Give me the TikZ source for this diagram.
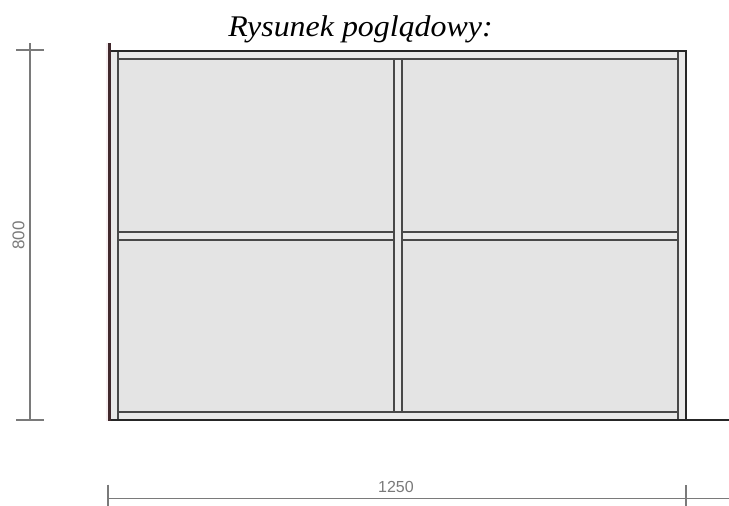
\documentclass[tikz,border=0pt]{standalone}
\usepackage{fontspec}
\setmainfont{Liberation Serif}
\setsansfont{Liberation Sans}
\definecolor{panelgray}{HTML}{E4E4E4}
\definecolor{framegray}{HTML}{E9E9E9}
\definecolor{linedark}{HTML}{484848}
\definecolor{dimgray}{HTML}{7A7A7A}
\definecolor{postred}{HTML}{40282C}
\definecolor{postglow}{HTML}{F6EEF0}
\tikzset{
  panel/.style={fill=panelgray},
  innerline/.style={draw=linedark,line width=2pt},
  frameline/.style={draw=black!85,line width=2pt},
  dimline/.style={draw=dimgray,line width=1.2pt},
  dimtext/.style={font=\sffamily\fontsize{16}{16}\selectfont,text=dimgray,inner sep=0pt}
}
\begin{document}
\begin{tikzpicture}[x=1pt,y=-1pt]
  \useasboundingbox (0,0) rectangle (729,506);

  \node[font=\itshape\fontsize{30}{30}\selectfont,inner sep=0pt,anchor=base,xscale=1.064] (title) at (360.5,36.5) {Rysunek poglądowy:};

  % frame
  \fill[framegray] (110,50) rectangle (686,420);
  \fill[panel] (118,58.5) rectangle (393.7,232);
  \fill[panel] (401.7,58.5) rectangle (677.7,232);
  \fill[panel] (118,240.3) rectangle (393.7,412);
  \fill[panel] (401.7,240.3) rectangle (677.7,412);

  \draw[innerline] (118,50) -- (118,420);
  \draw[innerline] (677.7,50) -- (677.7,420);
  \draw[innerline] (393.7,58.5) -- (393.7,412);
  \draw[innerline] (401.7,58.5) -- (401.7,412);
  \draw[innerline] (118,58.5) -- (677.7,58.5);
  \draw[innerline] (118,412) -- (677.7,412);
  \draw[innerline] (118,232) -- (393.7,232);
  \draw[innerline] (118,240.3) -- (393.7,240.3);
  \draw[innerline] (401.7,232) -- (677.7,232);
  \draw[innerline] (401.7,240.3) -- (677.7,240.3);

  \coordinate (postT) at (109.5,43);
  \coordinate (postB) at (109.5,421);
  \coordinate (topL) at (109.5,50.5);
  \coordinate (topR) at (686,50.5);
  \coordinate (groundL) at (109.5,420);
  \coordinate (groundR) at (729,420);
  \draw[frameline] (topL) -- (topR) -- (686,420);
  \draw[frameline] (groundL) -- (groundR);
  \draw[draw=postglow,line width=3pt] (107,43) -- (107,421);
  \draw[draw=postred,line width=2.4pt] (postT) -- (postB);

  % height
  \coordinate (hT) at (30,43);
  \coordinate (hB) at (30,420);
  \draw[dimline] (hT) -- (hB);
  \draw[dimline] (16,50) -- (44,50);
  \draw[dimline] (16,420) -- (44,420);
  \node[dimtext,font=\sffamily\fontsize{17}{17}\selectfont,rotate=90] (height) at (18.5,235.5) {800};

  % width
  \coordinate (wL) at (108,498.5);
  \coordinate (wR) at (729,498.5);
  \draw[dimline] (wL) -- (wR);
  \draw[dimline] (108,484.5) -- (108,506);
  \draw[dimline] (686,485) -- (686,506);
  \node[dimtext] (width) at (396,487) {1250};
\end{tikzpicture}
\end{document}
